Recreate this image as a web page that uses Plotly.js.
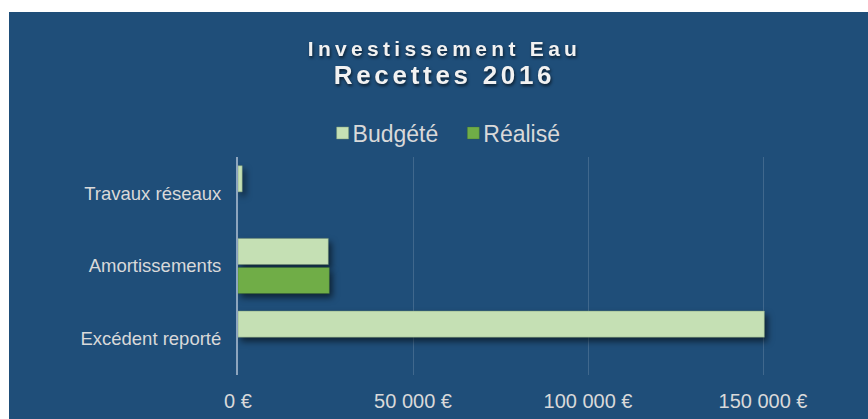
<!DOCTYPE html>
<html>
<head>
<meta charset="utf-8">
<script src="https://cdn.plot.ly/plotly-3.0.1.min.js"></script>
<style>
  html, body { margin: 0; padding: 0; background: #ffffff; width: 868px; height: 419px; overflow: hidden; }
  #chart { position: absolute; left: 9px; top: 12px; width: 859px; height: 407px; }
  .barlayer .point path { filter: drop-shadow(3px 4px 3px rgba(0,0,0,0.55)); }
  .gtitle { filter: drop-shadow(1px 2px 1.5px rgba(0,0,0,0.6)); }
</style>
</head>
<body>
<div id="chart"></div>
<script>
// Data
const categories = ['Travaux réseaux', 'Amortissements', 'Excédent reporté'];
const budgete = [1200, 25800, 150400];
const realise = [null, 26100, null];
const seriesNames = ['Budgété', 'Réalisé'];
const xTickStep = 50000;

const tickColor = '#D9D9D9';

const traces = [
  {
    type: 'bar', orientation: 'h', name: seriesNames[0],
    y: categories, x: budgete,
    marker: { color: '#C5E0B4', line: { color: 'rgba(120,150,115,0.6)', width: 0.8 } },
    hoverinfo: 'none'
  },
  {
    type: 'bar', orientation: 'h', name: seriesNames[1],
    y: categories, x: realise,
    marker: { color: '#70AD47', line: { color: 'rgba(60,100,40,0.4)', width: 0.8 } },
    hoverinfo: 'none'
  }
];

const layout = {
  width: 859, height: 407,
  paper_bgcolor: '#1F4E79',
  plot_bgcolor: '#1F4E79',
  separators: ', ',
  margin: { l: 229, r: 35, t: 145, b: 44 },
  barmode: 'group',
  bargap: 0.2,
  bargroupgap: 0.1,
  font: { family: 'Liberation Sans, Arial, sans-serif', color: tickColor },
  title: {
    text: 'Investissement Eau<br><span style="font-size:26px">Recettes 2016</span>',
    font: { family: 'Liberation Sans, Arial, sans-serif', size: 21, color: '#F2F2F2', weight: 'bold' },
    x: 0.507, xanchor: 'center', xref: 'container',
    y: 0.891, yanchor: 'middle', yref: 'container'
  },
  showlegend: true,
  legend: {
    orientation: 'h',
    x: 0.338, xanchor: 'center',
    y: 1.11, yanchor: 'middle',
    font: { size: 23, color: tickColor },
    bgcolor: 'rgba(0,0,0,0)',
    itemclick: false, itemdoubleclick: false
  },
  xaxis: {
    range: [0, 170000],
    tickmode: 'linear',
    tick0: 0,
    dtick: xTickStep,
    tickformat: ',.0f',
    ticksuffix: ' €',
    showticksuffix: 'all',
    showgrid: true,
    gridcolor: 'rgba(255,255,255,0.15)',
    gridwidth: 1,
    zeroline: false,
    showline: false,
    ticks: '',
    ticklabelstandoff: 12,
    tickfont: { size: 20, color: tickColor }
  },
  yaxis: {
    type: 'category',
    autorange: 'reversed',
    showgrid: false,
    zeroline: false,
    showline: true,
    linecolor: '#8DA5BE',
    linewidth: 2,
    ticks: '',
    ticklabelstandoff: 11,
    tickfont: { size: 18.5, color: tickColor }
  }
};

Plotly.newPlot('chart', traces, layout, { displayModeBar: false, staticPlot: true }).then(function (gd) {
  const lines = gd.querySelectorAll('.gtitle tspan.line');
  if (lines.length >= 2) {
    lines[0].style.letterSpacing = '4.3px';
    lines[1].style.letterSpacing = '3.7px';
  } else {
    const t = gd.querySelector('.gtitle');
    if (t) { t.style.letterSpacing = '3.5px'; }
  }
  gd.querySelectorAll('.legend .traces .legendsymbols').forEach(function (s) {
    s.setAttribute('transform', 'translate(10,0)');
  });
});
</script>
</body>
</html>
